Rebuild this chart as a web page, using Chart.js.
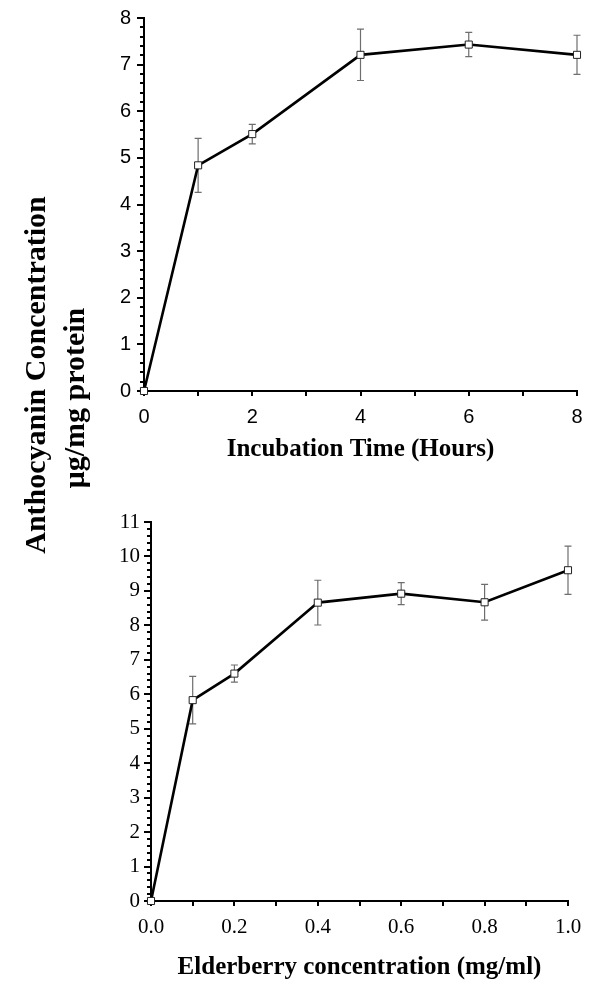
<!DOCTYPE html>
<html>
<head>
<meta charset="utf-8">
<script src="https://cdn.jsdelivr.net/npm/chart.js@4.4.1/dist/chart.umd.min.js"></script>
<style>
  html, body { margin:0; padding:0; background:#fff; }
  body { width:592px; height:983px; position:relative; overflow:hidden; }
  canvas { position:absolute; left:0; }
  .ytitle { position:absolute; width:440px; height:36px; line-height:36px; text-align:center;
            white-space:nowrap; font-family:"Liberation Serif","Times New Roman",serif; font-weight:bold;
            font-size:30px; color:#000; transform:rotate(-90deg); transform-origin:50% 50%; }
</style>
</head>
<body>
<canvas id="c1" width="592" height="465" style="top:0px"></canvas>
<canvas id="c2" width="592" height="503" style="top:480px"></canvas>
<div class="ytitle" style="left:-185px; top:357px;">Anthocyanin Concentration</div>
<div class="ytitle" style="left:-146px; top:380px;">μg/mg protein</div>
<script>
// ---- data ----
const hours      = [0, 1, 2, 4, 6, 8];
const timeMean   = [0, 4.84, 5.51, 7.21, 7.43, 7.21];
const timeErr    = [0, 0.58, 0.21, 0.55, 0.26, 0.42];
const timeXLabels = ['0', '', '2', '', '4', '', '6', '', '8'];
const timeYLabels = ['0','1','2','3','4','5','6','7','8'];

const elderConc  = [0, 0.1, 0.2, 0.4, 0.6, 0.8, 1.0];
const elderMean  = [0, 5.83, 6.60, 8.66, 8.92, 8.67, 9.60];
const elderErr   = [0, 0.69, 0.25, 0.65, 0.32, 0.52, 0.70];
const elderXLabels = ['0.0','','0.2','','0.4','','0.6','','0.8','','1.0'];
const elderYLabels = ['0','1','2','3','4','5','6','7','8','9','10','11'];

// ---- plugins ----
const errorBars = {
  id: 'errorBars',
  beforeDatasetsDraw(chart, args, opts) {
    const ctx = chart.ctx, xs = chart.scales.x, ys = chart.scales.y;
    const ds = chart.data.datasets[0];
    const errs = opts.errors || [];
    ctx.save();
    ctx.strokeStyle = '#6e6e6e';
    ctx.lineWidth = 1.2;
    ds.data.forEach((p, i) => {
      const e = errs[i];
      if (!e) return;
      const x = xs.getPixelForValue(p.x);
      const yt = ys.getPixelForValue(p.y + e);
      const yb = ys.getPixelForValue(p.y - e);
      ctx.beginPath();
      ctx.moveTo(x, yt); ctx.lineTo(x, yb);
      ctx.moveTo(x - 3.5, yt); ctx.lineTo(x + 3.5, yt);
      ctx.moveTo(x - 3.5, yb); ctx.lineTo(x + 3.5, yb);
      ctx.stroke();
    });
    ctx.restore();
  }
};
const minorTicks = {
  id: 'minorTicks',
  afterDraw(chart, args, opts) {
    const ctx = chart.ctx, ys = chart.scales.y;
    const step = opts.step || 0.2;
    ctx.save();
    ctx.strokeStyle = '#000';
    ctx.lineWidth = 2;
    const n = Math.round((ys.max - ys.min) / step);
    for (let i = 0; i <= n; i++) {
      const v = ys.min + i * step;
      if (Math.abs(v - Math.round(v)) < 1e-6) continue;
      const y = Math.round(ys.getPixelForValue(v));
      ctx.beginPath();
      ctx.moveTo(ys.right - 4, y); ctx.lineTo(ys.right, y);
      ctx.stroke();
    }
    ctx.restore();
  }
};

function makeChart(id, xs, ys, errs, xLabels, yLabels, cfg) {
  const points = xs.map((x, i) => ({x: x, y: ys[i]}));
  return new Chart(document.getElementById(id), {
    type: 'line',
    data: { datasets: [{
      data: points,
      borderColor: '#000',
      borderWidth: 2.6,
      pointStyle: 'rect',
      pointRadius: 5,
      pointHoverRadius: 5,
      pointBackgroundColor: '#fff',
      pointBorderColor: '#222',
      pointBorderWidth: 1,
      tension: 0,
      clip: false
    }]},
    options: {
      responsive: false,
      animation: false,
      events: [],
      layout: { padding: cfg.padding },
      plugins: {
        legend: { display: false },
        tooltip: { enabled: false },
        errorBars: { errors: errs },
        minorTicks: { step: 0.2 }
      },
      scales: {
        x: {
          type: 'linear',
          min: cfg.xMin, max: cfg.xMax,
          afterFit: s => { s.height = cfg.xHeight; },
          afterBuildTicks: s => { s.ticks = xLabels.map((l, i) => ({ value: cfg.xMin + i * cfg.xStep })); },
          ticks: {
            autoSkip: false, maxRotation: 0,
            padding: 9,
            color: '#000',
            font: { family: cfg.tickFont, size: cfg.tickSize },
            callback: (v, i) => xLabels[i]
          },
          grid: { drawOnChartArea: false, drawTicks: true, tickLength: 5, color: '#000', lineWidth: 2 },
          border: { display: true, color: '#000', width: 2 },
          title: {
            display: true, text: cfg.xTitle, color: '#000',
            font: { family: '"Liberation Serif", serif', weight: 'bold', size: 25 },
            padding: 0
          }
        },
        y: {
          type: 'linear',
          min: 0, max: yLabels.length - 1,
          afterFit: s => { s.width = cfg.yWidth; },
          afterBuildTicks: s => { s.ticks = yLabels.map((l, i) => ({ value: i })); },
          ticks: {
            autoSkip: false,
            padding: cfg.yPad,
            color: '#000',
            font: { family: cfg.tickFont, size: cfg.tickSize },
            callback: (v, i) => yLabels[i]
          },
          grid: { drawOnChartArea: false, drawTicks: true, tickLength: 7, color: '#000', lineWidth: 2 },
          border: { display: true, color: '#000', width: 2 }
        }
      }
    },
    plugins: [errorBars, minorTicks]
  });
}

makeChart('c1', hours, timeMean, timeErr, timeXLabels, timeYLabels, {
  padding: { left: 0, top: 15, right: 15, bottom: 0 },
  xMin: 0, xMax: 8, xStep: 1, xHeight: 74, yWidth: 144, yPad: 6, tickSize: 20,
  tickFont: '"Liberation Sans", Arial, sans-serif',
  xTitle: 'Incubation Time (Hours)'
});
makeChart('c2', elderConc, elderMean, elderErr, elderXLabels, elderYLabels, {
  padding: { left: 0, top: 42, right: 24, bottom: 0 },
  xMin: 0, xMax: 1.0, xStep: 0.1, xHeight: 82, yWidth: 151, yPad: 4, tickSize: 21,
  tickFont: '"Liberation Serif", "Times New Roman", serif',
  xTitle: 'Elderberry concentration (mg/ml)'
});
</script>
</body>
</html>
